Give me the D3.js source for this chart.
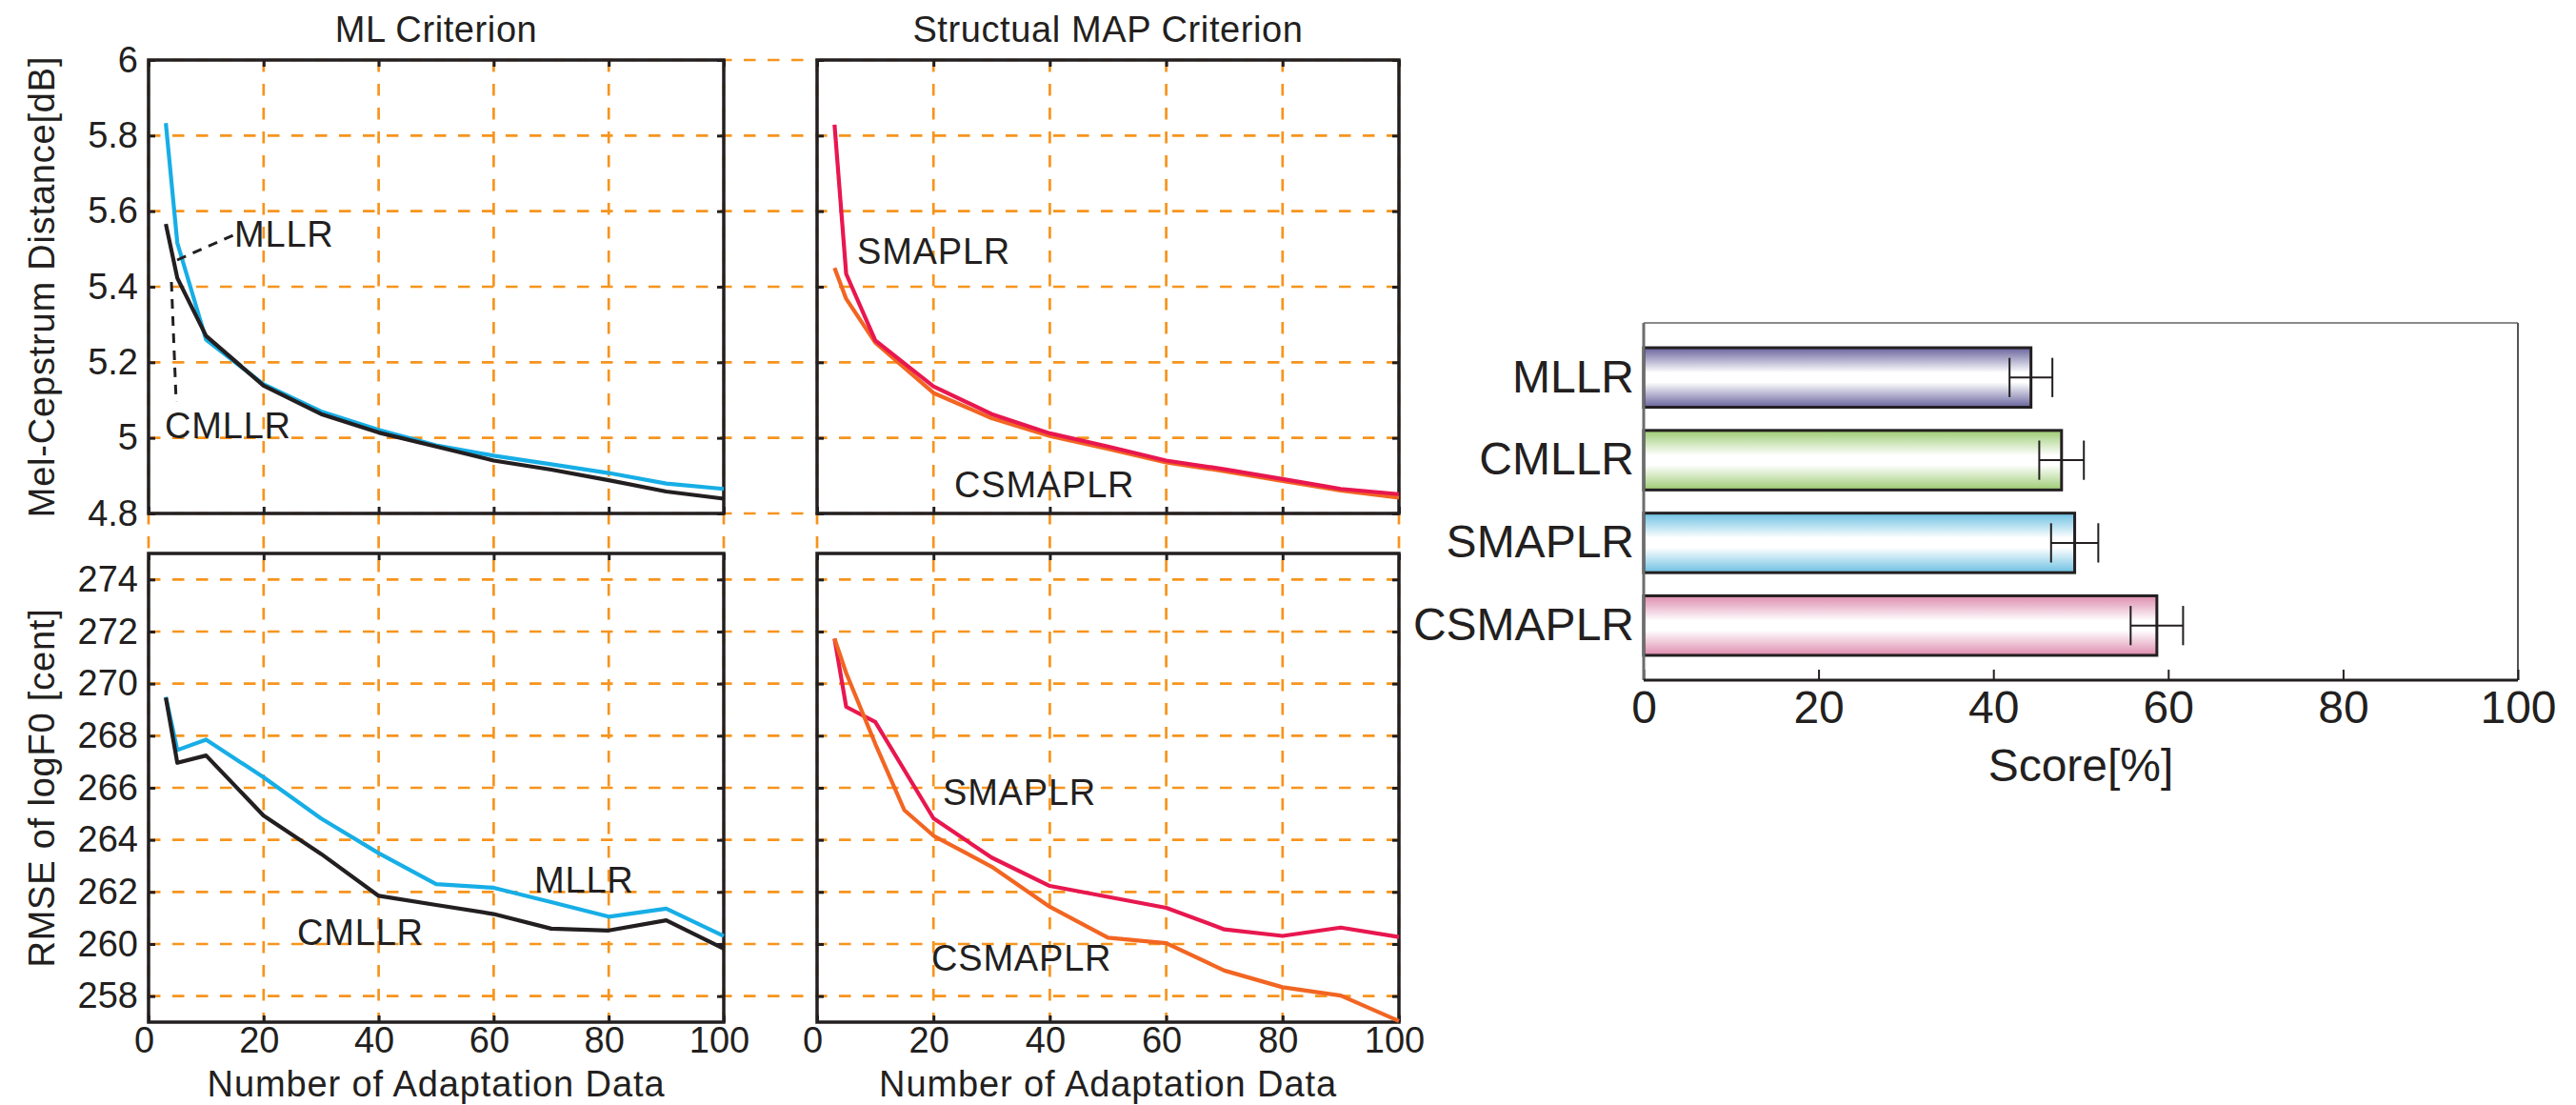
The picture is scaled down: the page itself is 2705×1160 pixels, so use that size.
<!DOCTYPE html>
<html>
<head>
<meta charset="utf-8">
<script src="https://cdn.jsdelivr.net/npm/d3@7"></script>
<style>
  body { margin: 0; background: #fff; }
  svg { display: block; font-family: "Liberation Sans", Arial, sans-serif; }
</style>
</head>
<body>
<svg id="chart" width="2705" height="1160"></svg>
<script>
// number of adaptation utterances (x axis)
const adaptation = [3, 5, 10, 20, 30, 40, 50, 60, 70, 80, 90, 100];
const adaptationCsmaplrF0 = [3, 5, 10, 15, 20, 30, 40, 50, 60, 70, 80, 90, 100];

// mel-cepstrum distance [dB]
const melMllr    = [5.833, 5.516, 5.260, 5.142, 5.070, 5.021, 4.980, 4.953, 4.930, 4.907, 4.879, 4.865];
const melCmllr   = [5.566, 5.423, 5.270, 5.138, 5.063, 5.014, 4.977, 4.940, 4.916, 4.888, 4.858, 4.839];
const melSmaplr  = [5.829, 5.434, 5.258, 5.136, 5.063, 5.012, 4.977, 4.940, 4.917, 4.891, 4.865, 4.851];
const melCsmaplr = [5.450, 5.368, 5.252, 5.119, 5.052, 5.005, 4.971, 4.935, 4.912, 4.886, 4.861, 4.842];

// RMSE of logF0 [cent]
const f0Mllr    = [269.49, 267.45, 267.85, 266.40, 264.82, 263.49, 262.30, 262.16, 261.61, 261.05, 261.36, 260.31];
const f0Cmllr   = [269.46, 266.96, 267.24, 264.93, 263.46, 261.85, 261.50, 261.15, 260.59, 260.52, 260.91, 259.82];
const f0Smaplr  = [271.73, 269.11, 268.53, 264.83, 263.32, 262.23, 261.81, 261.39, 260.56, 260.31, 260.63, 260.27];
const f0Csmaplr = [271.73, 270.41, 267.69, 265.14, 264.16, 262.97, 261.43, 260.24, 260.03, 258.98, 258.34, 258.02, 257.04];

const xTicks = [0, 20, 40, 60, 80, 100];
const melTicks = [4.8, 5, 5.2, 5.4, 5.6, 5.8, 6];
const f0Ticks = [258, 260, 262, 264, 266, 268, 270, 272, 274];

// preference test
const methods = ["MLLR", "CMLLR", "SMAPLR", "CSMAPLR"];
const scores = [44.3, 47.8, 49.3, 58.7];
const scoreErr = [2.45, 2.55, 2.7, 3.0];
const scoreTicks = [0, 20, 40, 60, 80, 100];

const svg = d3.select("#chart");
const ink = "#231f20";
const gridColor = "#f7941d";

// layout of the 2x2 line panels
const cols = [{ x0: 156, x1: 760, title: "ML Criterion" },
              { x0: 858, x1: 1469, title: "Structual MAP Criterion" }];
const rows = [{ y0: 63, y1: 539, domain: [4.8, 6], ticks: melTicks, label: "Mel-Cepstrum Distance[dB]", grid: melTicks },
              { y0: 581, y1: 1073, domain: [257, 275], ticks: f0Ticks, label: "RMSE of logF0 [cent]", grid: f0Ticks }];

cols.forEach(c => c.x = d3.scaleLinear().domain([0, 100]).range([c.x0, c.x1]));
rows.forEach(r => r.y = d3.scaleLinear().domain(r.domain).range([r.y1, r.y0]));

const series = [
  { col: 0, row: 0, xs: adaptation, ys: melMllr, color: "#17aee6" },
  { col: 0, row: 0, xs: adaptation, ys: melCmllr, color: ink },
  { col: 1, row: 0, xs: adaptation, ys: melCsmaplr, color: "#f26522" },
  { col: 1, row: 0, xs: adaptation, ys: melSmaplr, color: "#e8174f" },
  { col: 0, row: 1, xs: adaptation, ys: f0Mllr, color: "#17aee6" },
  { col: 0, row: 1, xs: adaptation, ys: f0Cmllr, color: ink },
  { col: 1, row: 1, xs: adaptation, ys: f0Smaplr, color: "#e8174f" },
  { col: 1, row: 1, xs: adaptationCsmaplrF0, ys: f0Csmaplr, color: "#f26522" }
];

// dashed grid, running through the gaps between panels
const grid = svg.append("g")
  .attr("stroke", gridColor)
  .attr("stroke-width", 2.7)
  .attr("stroke-dasharray", "12.5,12.5");

rows.forEach(r => {
  grid.selectAll(null).data(r.grid).join("line")
    .attr("x1", cols[0].x0).attr("x2", cols[1].x1)
    .attr("y1", d => r.y(d)).attr("y2", d => r.y(d));
});
cols.forEach(c => {
  grid.selectAll(null).data(xTicks).join("line")
    .attr("x1", d => c.x(d)).attr("x2", d => c.x(d))
    .attr("y1", rows[0].y0).attr("y2", rows[1].y1);
});

// panels: ticks, frame, labels
rows.forEach((r, ri) => {
  cols.forEach((c, ci) => {
    const g = svg.append("g");
    const style = a => {
      a.select(".domain").remove();
      a.selectAll(".tick line").attr("stroke", ink).attr("stroke-width", 3);
      a.selectAll("text").attr("fill", ink).attr("font-size", 38)
        .attr("font-family", "\"Liberation Sans\", Arial, sans-serif");
    };
    g.append("g").attr("transform", `translate(${c.x0},0)`)
      .call(d3.axisLeft(r.y).tickValues(r.ticks).tickSize(-7).tickPadding(11)
        .tickFormat(ci === 0 ? (d => d) : ""))
      .call(style);
    g.append("g").attr("transform", `translate(${c.x1},0)`)
      .call(d3.axisRight(r.y).tickValues(r.ticks).tickSize(-7).tickFormat(""))
      .call(style);
    g.append("g").attr("transform", `translate(0,${r.y0})`)
      .call(d3.axisTop(c.x).tickValues(xTicks).tickSize(-7).tickFormat(""))
      .call(style);
    g.append("g").attr("transform", `translate(0,${r.y1})`)
      .call(d3.axisBottom(c.x).tickValues(xTicks).tickSize(-7).tickPadding(5)
        .tickFormat(ri === 1 ? (d => d) : ""))
      .call(style)
      .call(a => a.selectAll("text").attr("dx", -5));

    g.append("rect")
      .attr("x", c.x0).attr("y", r.y0)
      .attr("width", c.x1 - c.x0).attr("height", r.y1 - r.y0)
      .attr("fill", "none").attr("stroke", ink).attr("stroke-width", 3.5);
  });

  svg.append("text")
    .attr("transform", `translate(43,${(r.y0 + r.y1) / 2}) rotate(-90)`)
    .attr("text-anchor", "middle").attr("dy", "0.36em")
    .attr("font-size", 38).attr("letter-spacing", 0.8).attr("fill", ink)
    .text(r.label);
});

cols.forEach(c => {
  svg.append("text")
    .attr("x", (c.x0 + c.x1) / 2).attr("y", 44)
    .attr("text-anchor", "middle").attr("font-size", 38).attr("letter-spacing", 0.6)
    .attr("fill", ink).text(c.title);
  svg.append("text")
    .attr("x", (c.x0 + c.x1) / 2).attr("y", 1151)
    .attr("text-anchor", "middle").attr("font-size", 38).attr("letter-spacing", 0.9)
    .attr("fill", ink).text("Number of Adaptation Data");
});

// data lines
const lineFor = s => d3.line()
  .x((d, i) => cols[s.col].x(s.xs[i]))
  .y(d => rows[s.row].y(d));

svg.append("g").selectAll("path").data(series).join("path")
  .attr("d", s => lineFor(s)(s.ys))
  .attr("fill", "none")
  .attr("stroke", s => s.color)
  .attr("stroke-width", 4.2)
  .attr("stroke-linejoin", "round");

// in-plot labels
const notes = [
  { x: 246, y: 259, text: "MLLR" },
  { x: 173, y: 460, text: "CMLLR" },
  { x: 900, y: 277, text: "SMAPLR" },
  { x: 1002, y: 522, text: "CSMAPLR" },
  { x: 561, y: 937, text: "MLLR" },
  { x: 312, y: 992, text: "CMLLR" },
  { x: 990, y: 845, text: "SMAPLR" },
  { x: 978, y: 1019, text: "CSMAPLR" }
];
svg.append("g").selectAll("text").data(notes).join("text")
  .attr("x", d => d.x).attr("y", d => d.y)
  .attr("font-size", 38).attr("letter-spacing", 0.8).attr("fill", ink)
  .text(d => d.text);

// dashed leader lines
const leaders = [[[186, 273], [245, 247]], [[180, 296], [185, 422]]];
svg.append("g").selectAll("path").data(leaders).join("path")
  .attr("d", d3.line())
  .attr("fill", "none").attr("stroke", ink)
  .attr("stroke-width", 3).attr("stroke-dasharray", "10,8");

// ---------- bar chart ----------
const bx0 = 1726, bx1 = 2644, by0 = 339, by1 = 714;
const sx = d3.scaleLinear().domain([0, 100]).range([bx0, bx1]);
const sy = d3.scaleBand().domain(methods).range([by0, by1])
  .paddingInner(0.28).paddingOuter(0.3);

const barColors = ["#67639d", "#9ccb72", "#6cc0e2", "#dd8bad"];
const defs = svg.append("defs");
methods.forEach((m, i) => {
  const lg = defs.append("linearGradient").attr("id", "grad" + i)
    .attr("x1", 0).attr("y1", 0).attr("x2", 0).attr("y2", 1);
  [[0, barColors[i]], [0.42, "#ffffff"], [0.58, "#ffffff"], [1, barColors[i]]]
    .forEach(([o, col]) => lg.append("stop").attr("offset", o).attr("stop-color", col));
});

const bars = svg.append("g");
// frame
bars.append("line").attr("x1", bx0).attr("x2", bx1).attr("y1", by0).attr("y2", by0)
  .attr("stroke", "#8a8a8a").attr("stroke-width", 2);
bars.append("line").attr("x1", bx1).attr("x2", bx1).attr("y1", by0).attr("y2", by1)
  .attr("stroke", "#555").attr("stroke-width", 2);

bars.selectAll("rect.bar").data(methods).join("rect")
  .attr("class", "bar")
  .attr("x", sx(0)).attr("y", d => sy(d))
  .attr("width", (d, i) => sx(scores[i]) - sx(0))
  .attr("height", sy.bandwidth())
  .attr("fill", (d, i) => `url(#grad${i})`)
  .attr("stroke", ink).attr("stroke-width", 3);

// error bars
const capH = sy.bandwidth() * 0.66;
const err = bars.append("g").attr("stroke", ink).attr("stroke-width", 2);
methods.forEach((m, i) => {
  const cy = sy(m) + sy.bandwidth() / 2;
  const lo = sx(scores[i] - scoreErr[i]), hi = sx(scores[i] + scoreErr[i]);
  err.append("line").attr("x1", lo).attr("x2", hi).attr("y1", cy).attr("y2", cy);
  [lo, hi].forEach(x => err.append("line")
    .attr("x1", x).attr("x2", x).attr("y1", cy - capH / 2).attr("y2", cy + capH / 2));
});

const barFont = a => {
  a.select(".domain").remove();
  a.selectAll("text").attr("fill", ink).attr("font-size", 48)
    .attr("font-family", "\"Liberation Sans\", Arial, sans-serif");
};
bars.append("g").attr("transform", `translate(${bx0},0)`)
  .call(d3.axisLeft(sy).tickSize(0).tickPadding(10))
  .call(barFont);
bars.append("g").attr("transform", `translate(0,${by1})`)
  .call(d3.axisBottom(sx).tickValues(scoreTicks).tickSize(-11).tickPadding(11))
  .call(barFont)
  .call(a => a.selectAll(".tick line").attr("stroke", ink).attr("stroke-width", 2));

bars.append("line").attr("x1", bx0).attr("x2", bx0).attr("y1", by0).attr("y2", by1)
  .attr("stroke", "#6d6d6d").attr("stroke-width", 3);
bars.append("line").attr("x1", bx0).attr("x2", bx1).attr("y1", by1).attr("y2", by1)
  .attr("stroke", ink).attr("stroke-width", 3);

bars.append("text")
  .attr("x", (bx0 + bx1) / 2).attr("y", 820)
  .attr("text-anchor", "middle").attr("font-size", 48).attr("fill", ink)
  .text("Score[%]");
</script>
</body>
</html>
